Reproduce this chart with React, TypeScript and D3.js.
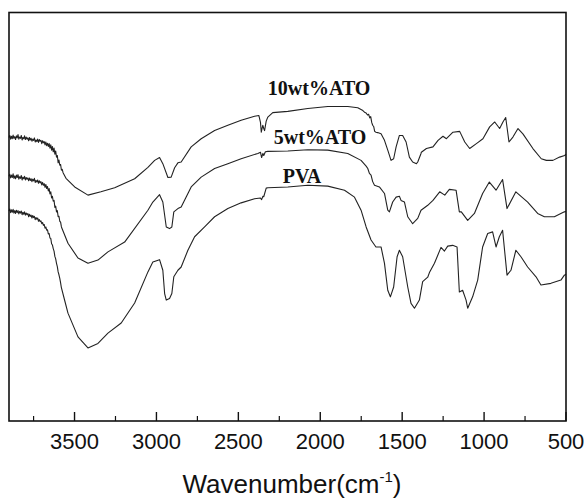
import React from "react";
import * as d3 from "d3";

// FTIR spectra, [wavenumber (cm-1), transmittance (a.u.)]
const atho10: [number, number][] = [
  [3900, 69.4], [3895, 69.9], [3890, 69.0], [3885, 69.7], [3880, 69.1], [3875, 70.0], [3870, 69.2], [3865, 69.6],
  [3860, 68.9], [3855, 69.8], [3850, 69.3], [3845, 70.1], [3840, 69.0], [3835, 69.5], [3830, 69.2], [3825, 69.9],
  [3820, 68.8], [3815, 69.4], [3810, 69.1], [3805, 69.8], [3800, 68.9], [3795, 69.5], [3790, 69.0], [3785, 69.3],
  [3780, 68.6], [3775, 69.4], [3770, 68.8], [3765, 69.2], [3760, 68.5], [3755, 69.0], [3750, 68.7], [3745, 69.3],
  [3740, 68.3], [3735, 68.8], [3730, 68.4], [3725, 69.0], [3720, 68.2], [3715, 68.9], [3710, 68.5], [3705, 68.7],
  [3700, 67.9], [3695, 68.6], [3690, 68.1], [3685, 68.4], [3680, 67.6], [3675, 68.3], [3670, 67.4], [3665, 68.0],
  [3660, 67.2], [3655, 67.9], [3650, 66.8], [3645, 67.6], [3640, 66.3], [3635, 67.2], [3630, 65.9], [3625, 66.8],
  [3620, 65.3], [3615, 66.1], [3610, 64.6], [3605, 65.0], [3600, 63.2], [3595, 63.9], [3590, 62.6], [3585, 62.8],
  [3580, 61.4], [3575, 61.6], [3570, 60.8], [3552, 59.4], [3499, 57.3], [3418, 55.3], [3339, 56.1], [3255, 57.1],
  [3133, 59.3], [3052, 62.1], [3011, 63.8], [2981, 64.5], [2961, 63.0], [2930, 59.6], [2910, 59.7], [2889, 62.0],
  [2869, 63.2], [2849, 63.4], [2788, 67.1], [2727, 69.1], [2645, 71.1], [2564, 72.4], [2483, 73.6], [2401, 74.6],
  [2375, 74.8], [2365, 73.1], [2360, 70.7], [2351, 72.4], [2345, 71.6], [2340, 71.1], [2330, 73.4], [2320, 74.4],
  [2290, 75.5], [2198, 75.8], [2076, 76.5], [1954, 77.0], [1832, 77.0], [1771, 76.7], [1740, 76.0], [1730, 75.6],
  [1720, 75.4], [1712, 74.9], [1705, 75.1], [1698, 74.2], [1692, 74.5], [1686, 73.1], [1680, 72.4], [1674, 72.1],
  [1668, 70.9], [1660, 70.7], [1650, 70.6], [1629, 70.3], [1608, 68.7], [1588, 66.3], [1568, 63.8], [1552, 64.2],
  [1537, 67.1], [1517, 69.9], [1497, 69.9], [1476, 68.3], [1456, 64.6], [1436, 63.4], [1413, 63.0], [1405, 63.4],
  [1385, 65.5], [1383, 65.8], [1352, 66.7], [1312, 67.1], [1281, 68.7], [1251, 69.7], [1230, 69.1], [1190, 70.7],
  [1149, 70.9], [1118, 68.3], [1088, 66.7], [1047, 67.9], [1007, 69.1], [966, 72.0], [935, 73.2], [905, 71.6],
  [885, 73.2], [868, 74.3], [848, 68.3], [824, 69.5], [793, 71.6], [763, 70.3], [702, 66.7], [651, 64.2],
  [620, 63.8], [580, 63.8], [539, 64.6], [508, 65.0], [500, 65.3],
];

const atho5: [number, number][] = [
  [3900, 59.9], [3895, 60.4], [3890, 59.5], [3885, 60.2], [3880, 59.6], [3875, 60.5], [3870, 59.4], [3865, 60.0],
  [3860, 59.3], [3855, 60.2], [3850, 59.6], [3845, 60.3], [3840, 59.2], [3835, 59.8], [3830, 59.4], [3825, 60.1],
  [3820, 59.0], [3815, 59.7], [3810, 59.3], [3805, 59.9], [3800, 59.0], [3795, 59.6], [3790, 59.2], [3785, 59.5],
  [3780, 58.8], [3775, 59.5], [3770, 58.9], [3765, 59.3], [3760, 58.6], [3755, 59.2], [3750, 58.8], [3745, 59.4],
  [3740, 58.4], [3735, 58.9], [3730, 58.5], [3725, 59.0], [3720, 58.2], [3715, 58.8], [3710, 58.3], [3705, 58.6],
  [3700, 57.8], [3695, 58.4], [3690, 57.7], [3685, 58.1], [3680, 57.2], [3675, 57.9], [3670, 56.9], [3665, 57.4],
  [3660, 56.3], [3655, 56.9], [3650, 55.6], [3645, 56.1], [3640, 54.6], [3635, 55.0], [3630, 53.8], [3625, 54.0],
  [3620, 52.3], [3615, 52.6], [3610, 51.2], [3605, 51.5], [3600, 50.0], [3595, 50.1], [3590, 48.9], [3585, 48.7],
  [3580, 47.5], [3540, 43.5], [3479, 39.9], [3418, 38.6], [3357, 39.4], [3296, 41.4], [3194, 43.8], [3052, 51.6],
  [3022, 53.6], [2981, 55.4], [2961, 53.6], [2940, 47.5], [2920, 47.1], [2906, 47.5], [2894, 51.2], [2869, 52.0],
  [2849, 52.4], [2788, 57.3], [2727, 59.7], [2645, 61.8], [2564, 63.0], [2483, 64.2], [2381, 65.5], [2365, 65.8],
  [2358, 64.5], [2350, 65.5], [2345, 65.0], [2335, 65.9], [2320, 66.0], [2198, 66.1], [2076, 66.4], [1954, 66.3],
  [1832, 65.5], [1751, 63.8], [1720, 62.4], [1710, 61.8], [1700, 60.6], [1690, 60.2], [1680, 58.6], [1669, 57.7],
  [1639, 57.3], [1608, 55.7], [1588, 51.6], [1578, 51.2], [1558, 53.6], [1537, 54.8], [1517, 55.0], [1507, 54.0],
  [1486, 53.6], [1466, 50.0], [1436, 48.3], [1405, 49.6], [1385, 51.6], [1344, 52.8], [1312, 54.0], [1271, 56.1],
  [1240, 55.3], [1212, 56.7], [1171, 56.5], [1151, 51.2], [1139, 51.2], [1100, 49.1], [1059, 50.8], [1009, 55.7],
  [968, 58.5], [927, 56.5], [887, 59.1], [860, 52.0], [806, 56.1], [734, 53.6], [673, 50.8], [632, 50.0],
  [571, 50.0], [510, 51.2], [500, 51.3],
];

const pva: [number, number][] = [
  [3900, 51.4], [3895, 51.9], [3890, 51.0], [3885, 51.7], [3880, 51.1], [3875, 51.8], [3870, 50.9], [3865, 51.5],
  [3860, 50.8], [3855, 51.6], [3850, 51.0], [3845, 51.5], [3840, 50.7], [3835, 51.3], [3830, 50.9], [3825, 51.4],
  [3820, 50.5], [3815, 51.1], [3810, 50.6], [3805, 51.2], [3800, 50.4], [3795, 50.9], [3790, 50.5], [3785, 50.8],
  [3780, 50.0], [3775, 50.6], [3770, 50.1], [3765, 50.4], [3760, 49.7], [3755, 50.3], [3750, 49.8], [3745, 50.1],
  [3740, 49.3], [3735, 49.8], [3730, 49.4], [3725, 49.7], [3720, 48.9], [3715, 49.3], [3710, 48.8], [3705, 49.0],
  [3700, 48.3], [3695, 48.6], [3690, 47.9], [3685, 48.1], [3680, 47.2], [3675, 47.5], [3670, 46.7], [3665, 46.8],
  [3660, 45.8], [3655, 45.9], [3650, 44.8], [3645, 44.7], [3640, 43.4], [3635, 43.1], [3630, 42.2], [3625, 41.6],
  [3620, 40.3], [3615, 39.7], [3610, 38.6], [3605, 37.8], [3600, 36.5], [3595, 35.8], [3590, 34.9], [3585, 33.8],
  [3581, 32.8], [3560, 29.5], [3540, 26.4], [3479, 20.6], [3418, 17.9], [3357, 19.0], [3296, 21.5], [3215, 24.0],
  [3133, 28.9], [3052, 36.5], [3022, 38.9], [2981, 39.5], [2961, 36.9], [2950, 31.2], [2940, 29.6], [2920, 30.0],
  [2906, 31.2], [2894, 35.3], [2869, 36.9], [2849, 37.7], [2808, 41.8], [2767, 45.1], [2706, 47.5], [2645, 50.0],
  [2564, 52.0], [2483, 53.4], [2401, 54.4], [2365, 54.6], [2358, 54.2], [2350, 55.0], [2345, 54.9], [2330, 57.0],
  [2320, 57.1], [2198, 57.3], [2076, 57.7], [1954, 57.5], [1852, 56.5], [1791, 54.8], [1751, 51.6], [1720, 47.5],
  [1690, 44.3], [1660, 42.6], [1629, 42.6], [1608, 38.6], [1588, 32.0], [1572, 30.4], [1552, 32.8], [1531, 40.2],
  [1517, 41.8], [1497, 40.2], [1466, 32.8], [1446, 28.8], [1425, 27.6], [1395, 29.6], [1375, 34.1], [1344, 35.2],
  [1332, 36.5], [1303, 38.6], [1263, 42.5], [1242, 41.6], [1222, 42.8], [1192, 43.0], [1165, 42.6], [1151, 31.6],
  [1131, 32.0], [1110, 29.6], [1100, 27.6], [1070, 30.4], [1039, 34.5], [1009, 42.6], [978, 45.9], [948, 46.3],
  [927, 42.6], [907, 45.1], [887, 46.7], [860, 35.7], [836, 36.9], [806, 41.8], [775, 40.2], [734, 37.7],
  [683, 35.3], [653, 33.3], [592, 33.7], [531, 34.5], [510, 35.7], [500, 35.9],
];

const seriesData = [atho10, atho5, pva];
const seriesLabels = ["10wt%ATO", "5wt%ATO", "PVA"];
const labelAnchors: [number, number][] = [[2320, 79.9], [2284, 67.7], [2229, 58.2]];
const majorTicks = [3500, 3000, 2500, 2000, 1500, 1000, 500];
const minorTicks = [3750, 3250, 2750, 2250, 1750, 1250, 750];

export default function App() {
  const W = 586, H = 499;
  const left = 9, right = 566, top = 12.5, bottom = 421;
  const x = d3.scaleLinear().domain([3900, 500]).range([left, right]);
  const y = d3.scaleLinear().domain([0, 100]).range([bottom, top]);
  const line = d3.line<[number, number]>().x(d => x(d[0])).y(d => y(d[1]));

  return (
    <svg width={W} height={H} style={{ position: "absolute", left: 0, top: 0, background: "#fff" }}>
      <rect x={0} y={0} width={W} height={H} fill="#fff" />
      {seriesData.map((s, i) => (
        <path key={i} d={line(s) || ""} fill="none" stroke="#222" strokeWidth={1.1} strokeLinejoin="round" />
      ))}
      {seriesLabels.map((t, i) => (
        <text key={t} x={x(labelAnchors[i][0])} y={y(labelAnchors[i][1])}
          fontFamily="'Liberation Serif', 'Times New Roman', serif" fontWeight="bold" fontSize={20} fill="#111">
          {t}
        </text>
      ))}
      <rect x={left} y={top} width={right - left} height={bottom - top} fill="none" stroke="#111" strokeWidth={1.6} />
      {majorTicks.map(t => (
        <line key={"M" + t} x1={x(t)} x2={x(t)} y1={bottom} y2={bottom - 9} stroke="#111" strokeWidth={1.4} />
      ))}
      {minorTicks.map(t => (
        <line key={"m" + t} x1={x(t)} x2={x(t)} y1={bottom} y2={bottom - 5} stroke="#111" strokeWidth={1.2} />
      ))}
      {majorTicks.map(t => (
        <text key={"L" + t} x={x(t)} y={449} textAnchor="middle"
          fontFamily="'Liberation Sans', Arial, sans-serif" fontSize={22} fill="#111">{t}</text>
      ))}
      <text x={292} y={493} textAnchor="middle" fontFamily="'Liberation Sans', Arial, sans-serif" fontSize={26} fill="#111">
        Wavenumber(cm<tspan fontSize={15} dy={-11}>-1</tspan><tspan dy={11}>)</tspan>
      </text>
    </svg>
  );
}
